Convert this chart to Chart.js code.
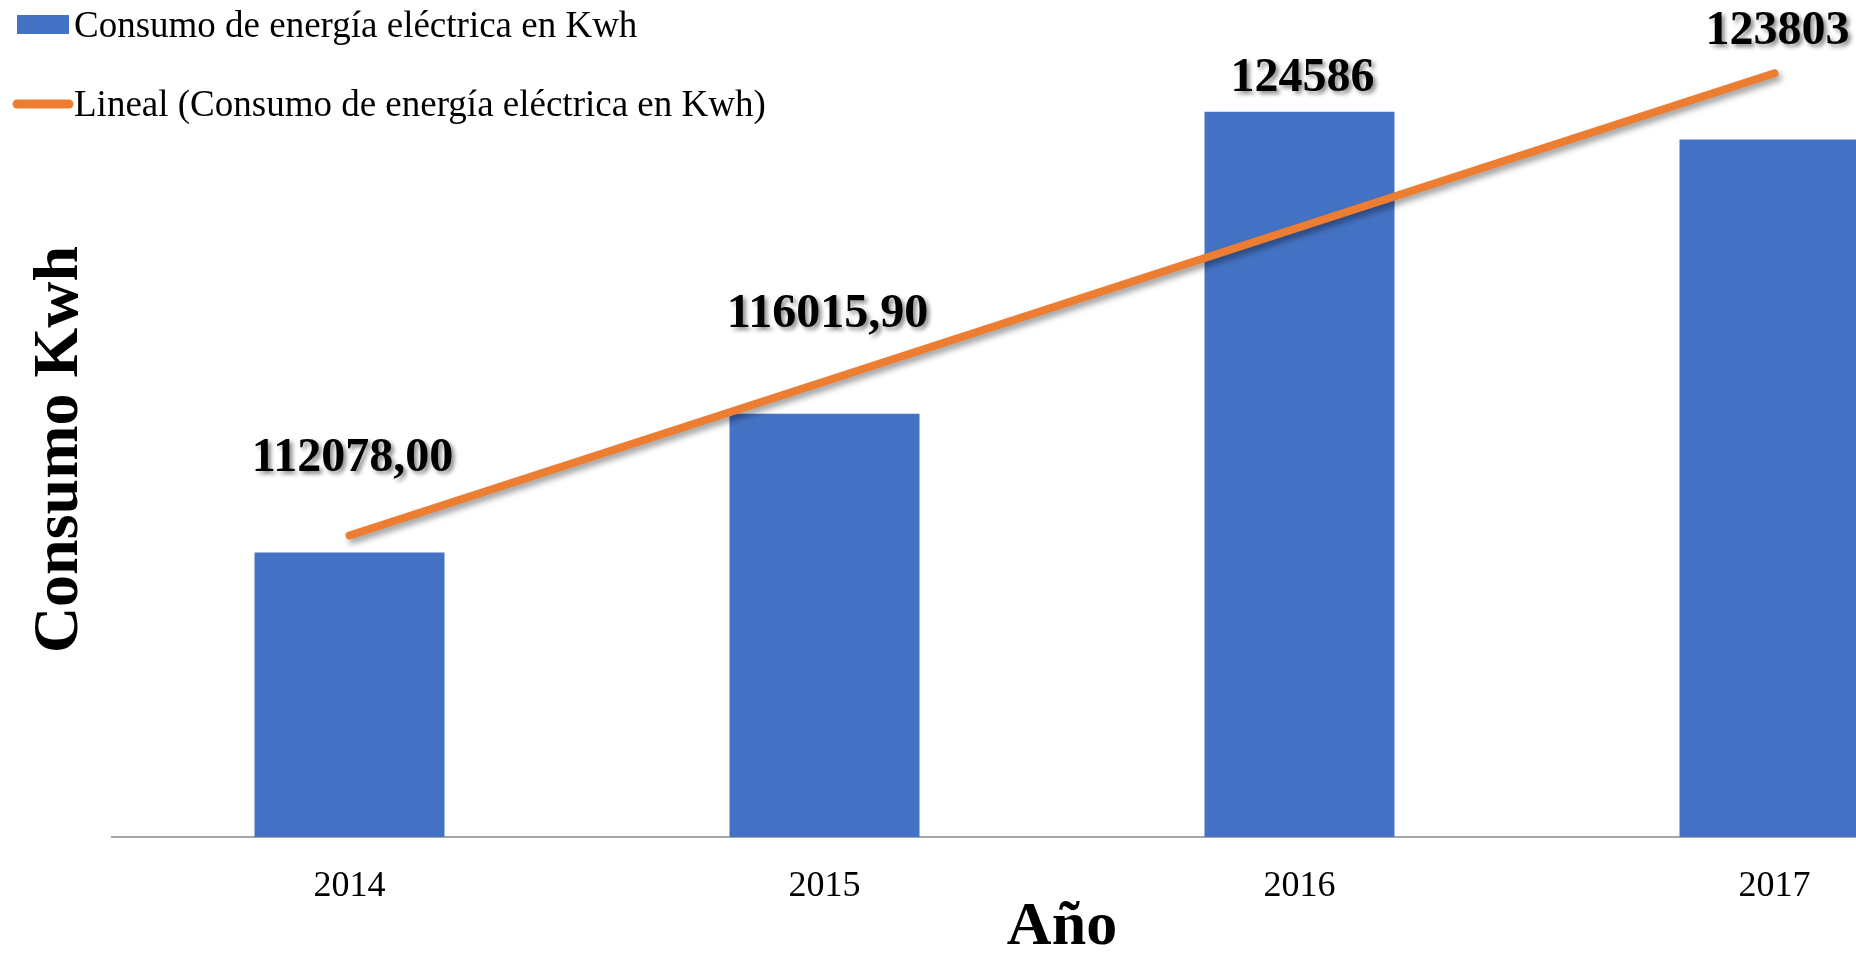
<!DOCTYPE html>
<html>
<head>
<meta charset="utf-8">
<script src="https://cdn.jsdelivr.net/npm/chart.js@4"></script>
<style>
  html, body { margin: 0; padding: 0; background: #fff; overflow: hidden; }
  #wrap { position: relative; width: 2012px; height: 953px; }
</style>
</head>
<body>
<div id="wrap"><canvas id="consumoChart"></canvas></div>
<script>
// Datos del gráfico
const years = ['2014', '2015', '2016', '2017'];
const consumo = [112078.00, 116015.90, 124586, 123803];
const valueLabels = ['112078,00', '116015,90', '124586', '123803'];
// línea de tendencia
const tendencia = [112560, 116930, 121310, 125680];

const serif = "'Liberation Serif', 'Times New Roman', serif";
const azul = '#4472C4';
const naranja = '#ED7D31';

// sombra para la línea de tendencia
const shadowPlugin = {
    id: 'lineShadow',
    beforeDatasetDraw(chart, args) {
        if (chart.data.datasets[args.index].type !== 'line') return;
        const c = chart.ctx;
        c.save();
        c.shadowColor = 'rgba(0,0,0,0.4)';
        c.shadowBlur = 6;
        c.shadowOffsetX = 3;
        c.shadowOffsetY = 4;
    },
    afterDatasetDraw(chart, args) {
        if (chart.data.datasets[args.index].type !== 'line') return;
        chart.ctx.restore();
    }
};

// etiquetas de valores con sombra
const labelPlugin = {
    id: 'valueLabels',
    afterDatasetsDraw(chart, args, opts) {
        const c = chart.ctx;
        const meta = chart.getDatasetMeta(0);
        c.save();
        c.font = 'bold 48px ' + serif;
        c.textAlign = 'center';
        c.textBaseline = 'alphabetic';
        c.fillStyle = '#000';
        c.shadowColor = 'rgba(0,0,0,0.45)';
        c.shadowBlur = 4;
        c.shadowOffsetX = 3;
        c.shadowOffsetY = 3;
        meta.data.forEach((bar, i) => {
            c.fillText(valueLabels[i], bar.x + 3, bar.y - opts.lift[i]);
        });
        c.restore();
    }
};

// leyenda superpuesta arriba a la izquierda
const legendPlugin = {
    id: 'overlayLegend',
    afterDraw(chart) {
        const c = chart.ctx;
        c.save();
        c.font = '37px ' + serif;
        c.textBaseline = 'alphabetic';
        c.fillStyle = azul;
        c.fillRect(17, 15, 52, 19);
        c.fillStyle = '#000';
        c.fillText(chart.data.datasets[0].label, 74, 37);
        c.strokeStyle = naranja;
        c.lineWidth = 9;
        c.lineCap = 'round';
        c.beginPath();
        c.moveTo(17, 104);
        c.lineTo(69, 104);
        c.stroke();
        c.fillText(chart.data.datasets[1].label, 74, 116);
        c.restore();
    }
};

const ctx = document.getElementById('consumoChart').getContext('2d');

const consumoChart = new Chart(ctx, {
    data: {
        labels: years,
        datasets: [{
            type: 'bar',
            label: 'Consumo de energía eléctrica en Kwh',
            data: consumo,
            backgroundColor: azul,
            categoryPercentage: 1,
            barPercentage: 0.4,
            order: 1
        }, {
            type: 'line',
            label: 'Lineal (Consumo de energía eléctrica en Kwh)',
            data: tendencia,
            borderColor: naranja,
            borderWidth: 8,
            borderCapStyle: 'round',
            pointRadius: 0,
            tension: 0,
            fill: false,
            order: 0
        }]
    },
    options: {
        responsive: true,
        maintainAspectRatio: false,
        animation: false,
        layout: { padding: { left: 16, top: 62, right: 0, bottom: 0 } },
        plugins: {
            legend: { display: false },
            tooltip: { enabled: false },
            valueLabels: { lift: [81, 87, 21, 95] }
        },
        scales: {
            x: {
                grid: { display: false },
                border: { display: true, color: '#a6a6a6', width: 2 },
                ticks: { color: '#000', font: { family: serif, size: 36 }, padding: 20 },
                title: {
                    display: true,
                    text: 'Año',
                    color: '#000',
                    font: { family: serif, size: 62, weight: 'bold', lineHeight: 0.8 },
                    padding: { top: 0, bottom: 0 }
                },
                afterFit: s => { s.height = 116; }
            },
            y: {
                min: 104000,
                max: 126000,
                grid: { display: false },
                border: { display: false },
                ticks: { display: false },
                title: {
                    display: true,
                    text: 'Consumo Kwh',
                    color: '#000',
                    font: { family: serif, size: 64, weight: 'bold' },
                    padding: { top: 6, bottom: 10 }
                },
                afterFit: s => { s.width = 96; }
            }
        }
    },
    plugins: [shadowPlugin, labelPlugin, legendPlugin]
});
</script>
</body>
</html>
